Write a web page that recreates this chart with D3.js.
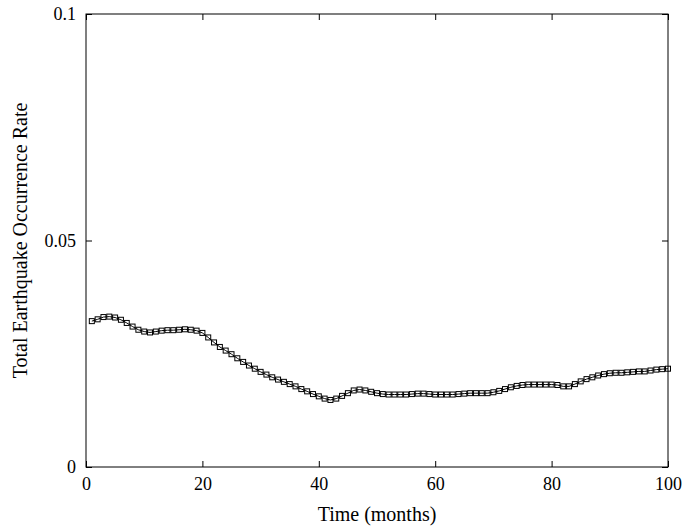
<!DOCTYPE html>
<head>
<meta charset="utf-8">
<style>
  body { margin: 0; background: #fff; }
  text { font-family: "Liberation Serif", "DejaVu Serif", serif; }
</style>
</head>
<svg width="682" height="529" class="chart"></svg>
<script src="https://cdn.jsdelivr.net/npm/d3@7"></script>
<script>
const months = d3.range(1, 101);
const rates = [
  .0322,.0326,.0331,.0332,.0330,.0325,.0318,.0310,.0303,.0299,
  .0297,.0299,.0301,.0302,.0302,.0303,.0304,.0303,.0301,.0296,
  .0286,.0275,.0265,.0257,.0249,.0240,.0232,.0224,.0217,.0210,
  .0204,.0198,.0193,.0188,.0183,.0178,.0172,.0167,.0161,.0156,
  .0151,.0148,.0151,.0157,.0163,.0169,.0171,.0169,.0166,.0163,
  .0161,.0160,.0160,.0160,.0160,.0161,.0162,.0162,.0161,.0160,
  .0160,.0160,.0160,.0161,.0162,.0163,.0163,.0163,.0163,.0165,
  .0168,.0172,.0176,.0179,.0181,.0182,.0182,.0182,.0182,.0182,
  .0181,.0178,.0178,.0183,.0189,.0194,.0198,.0202,.0205,.0207,
  .0208,.0208,.0209,.0210,.0211,.0211,.0213,.0215,.0216,.0217
];
const xTicks = [0, 20, 40, 60, 80, 100];
const yTicks = [0, 0.05, 0.1];

var svg = d3.select(".chart"),
    margin = {top: 14, right: 14, bottom: 62, left: 86},
    width = +svg.attr("width") - margin.left - margin.right,
    height = +svg.attr("height") - margin.top - margin.bottom;

var x = d3.scaleLinear().domain([0, 100]).range([0, width]),
    y = d3.scaleLinear().domain([0, 0.1]).range([height, 0]);

var g = svg.append("g").attr("transform", "translate(" + margin.left + "," + margin.top + ")");

function style(sel) {
  sel.select(".domain").remove();
  sel.selectAll("line").attr("stroke", "#000");
  sel.selectAll("text").attr("font-size", 18).attr("fill", "#000");
}

g.append("g").attr("transform", "translate(0," + height + ")")
  .call(d3.axisBottom(x).tickValues(xTicks).tickSize(-6).tickPadding(10).tickFormat(d3.format("d")))
  .call(style);
g.append("g").call(d3.axisTop(x).tickValues(xTicks).tickSize(-6).tickFormat(""))
  .call(style);
g.append("g")
  .call(d3.axisLeft(y).tickValues(yTicks).tickSize(-6).tickPadding(10).tickFormat(d => d === 0 ? "0" : String(d)))
  .call(style);
g.append("g").attr("transform", "translate(" + width + ",0)")
  .call(d3.axisRight(y).tickValues(yTicks).tickSize(-6).tickFormat(""))
  .call(style);

g.append("rect").attr("width", width).attr("height", height)
  .attr("fill", "none").attr("stroke", "#000").attr("stroke-width", 1);

var line = d3.line().x((d, i) => x(months[i])).y(d => y(d));
g.append("path").datum(rates).attr("d", line)
  .attr("fill", "none").attr("stroke", "#000").attr("stroke-width", 1);

g.selectAll(".pt").data(rates).enter().append("rect")
  .attr("class", "pt")
  .attr("x", (d, i) => x(months[i]) - 2.5)
  .attr("y", d => y(d) - 2.5)
  .attr("width", 5).attr("height", 5)
  .attr("fill", "none").attr("stroke", "#000").attr("stroke-width", 1);

svg.append("text").attr("x", margin.left + width / 2).attr("y", 521)
  .attr("text-anchor", "middle").attr("font-size", 20).text("Time (months)");
svg.append("text").attr("transform", "translate(27," + (margin.top + height / 2) + ") rotate(-90)")
  .attr("text-anchor", "middle").attr("font-size", 20).text("Total Earthquake Occurrence Rate");
</script>
